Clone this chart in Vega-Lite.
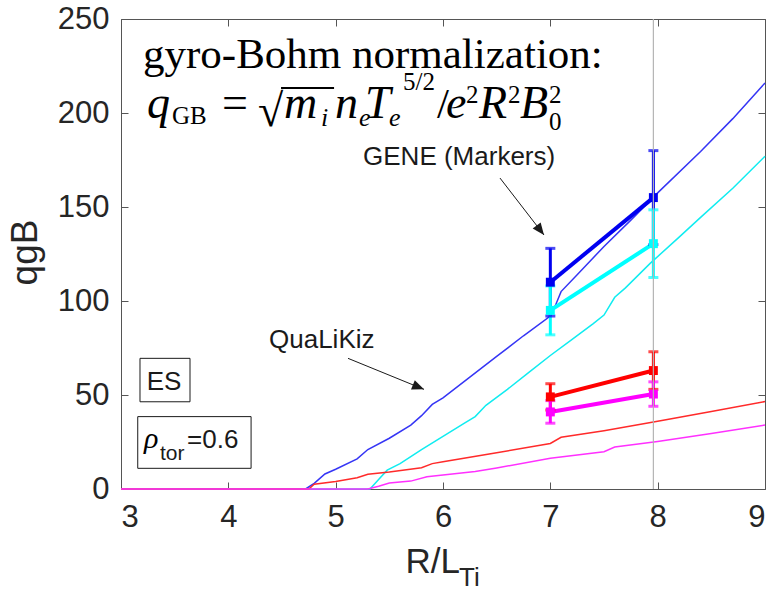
{
  "$schema": "https://vega.github.io/schema/vega-lite/v6.json",
  "width": 644,
  "height": 470,
  "autosize": {"type": "none"},
  "padding": {"left": 121, "top": 19, "right": 3, "bottom": 104},
  "background": "white",
  "config": {
    "view": {"stroke": null},
    "axis": {
      "grid": false,
      "domainColor": "#555555",
      "tickColor": "#555555",
      "tickSize": -7,
      "labelFont": "Liberation Sans",
      "labelFontSize": 31,
      "labelColor": "#262626",
      "titleFont": "Liberation Sans",
      "titleColor": "#262626",
      "titleFontWeight": "normal"
    }
  },
  "datasets": {
    "qualikiz": [
      {"case": "qi_1", "x": 3.0, "y": 0}, {"case": "qi_1", "x": 4.72, "y": 0}, {"case": "qi_1", "x": 4.8, "y": 3},
      {"case": "qi_1", "x": 4.9, "y": 8}, {"case": "qi_1", "x": 5.0, "y": 10.5}, {"case": "qi_1", "x": 5.2, "y": 16},
      {"case": "qi_1", "x": 5.3, "y": 21}, {"case": "qi_1", "x": 5.5, "y": 27}, {"case": "qi_1", "x": 5.7, "y": 34},
      {"case": "qi_1", "x": 5.8, "y": 39}, {"case": "qi_1", "x": 5.9, "y": 45}, {"case": "qi_1", "x": 6.0, "y": 48.5},
      {"case": "qi_1", "x": 6.25, "y": 59.5}, {"case": "qi_1", "x": 6.5, "y": 70.5}, {"case": "qi_1", "x": 6.75, "y": 81.5},
      {"case": "qi_1", "x": 7.0, "y": 92}, {"case": "qi_1", "x": 7.05, "y": 98}, {"case": "qi_1", "x": 7.1, "y": 105},
      {"case": "qi_1", "x": 7.25, "y": 114}, {"case": "qi_1", "x": 7.5, "y": 129}, {"case": "qi_1", "x": 7.75, "y": 143},
      {"case": "qi_1", "x": 8.0, "y": 157.5}, {"case": "qi_1", "x": 8.4, "y": 179.5}, {"case": "qi_1", "x": 8.7, "y": 197},
      {"case": "qi_1", "x": 9.0, "y": 216},

      {"case": "qi_2", "x": 3.0, "y": 0}, {"case": "qi_2", "x": 5.32, "y": 0}, {"case": "qi_2", "x": 5.4, "y": 5},
      {"case": "qi_2", "x": 5.48, "y": 10}, {"case": "qi_2", "x": 5.6, "y": 13.5}, {"case": "qi_2", "x": 5.8, "y": 21},
      {"case": "qi_2", "x": 6.0, "y": 28}, {"case": "qi_2", "x": 6.2, "y": 35}, {"case": "qi_2", "x": 6.3, "y": 38.5},
      {"case": "qi_2", "x": 6.4, "y": 44.5}, {"case": "qi_2", "x": 6.6, "y": 53}, {"case": "qi_2", "x": 6.8, "y": 62},
      {"case": "qi_2", "x": 7.0, "y": 71}, {"case": "qi_2", "x": 7.2, "y": 79.5}, {"case": "qi_2", "x": 7.4, "y": 88},
      {"case": "qi_2", "x": 7.5, "y": 92.5}, {"case": "qi_2", "x": 7.6, "y": 102}, {"case": "qi_2", "x": 7.7, "y": 107},
      {"case": "qi_2", "x": 7.93, "y": 120}, {"case": "qi_2", "x": 8.2, "y": 134}, {"case": "qi_2", "x": 8.4, "y": 144.5},
      {"case": "qi_2", "x": 8.7, "y": 160}, {"case": "qi_2", "x": 9.0, "y": 177},

      {"case": "qe_1", "x": 3.0, "y": 0}, {"case": "qe_1", "x": 4.75, "y": 0}, {"case": "qe_1", "x": 4.8, "y": 2.5},
      {"case": "qe_1", "x": 5.0, "y": 4}, {"case": "qe_1", "x": 5.2, "y": 6}, {"case": "qe_1", "x": 5.3, "y": 7.8},
      {"case": "qe_1", "x": 5.5, "y": 9}, {"case": "qe_1", "x": 5.8, "y": 11.3}, {"case": "qe_1", "x": 5.9, "y": 13.5},
      {"case": "qe_1", "x": 6.0, "y": 14.5}, {"case": "qe_1", "x": 6.5, "y": 19.3}, {"case": "qe_1", "x": 7.0, "y": 24.2},
      {"case": "qe_1", "x": 7.1, "y": 27.5}, {"case": "qe_1", "x": 7.5, "y": 31}, {"case": "qe_1", "x": 8.0, "y": 36},
      {"case": "qe_1", "x": 8.5, "y": 41.2}, {"case": "qe_1", "x": 9.0, "y": 46.5},

      {"case": "qe_2", "x": 3.0, "y": 0}, {"case": "qe_2", "x": 5.3, "y": 0}, {"case": "qe_2", "x": 5.4, "y": 1.5},
      {"case": "qe_2", "x": 5.5, "y": 3.2}, {"case": "qe_2", "x": 5.7, "y": 4.2}, {"case": "qe_2", "x": 5.85, "y": 6.5},
      {"case": "qe_2", "x": 6.0, "y": 7.5}, {"case": "qe_2", "x": 6.3, "y": 9.3}, {"case": "qe_2", "x": 6.5, "y": 11.2},
      {"case": "qe_2", "x": 7.0, "y": 16.3}, {"case": "qe_2", "x": 7.5, "y": 19.8}, {"case": "qe_2", "x": 7.6, "y": 22.3},
      {"case": "qe_2", "x": 8.0, "y": 25.3}, {"case": "qe_2", "x": 8.5, "y": 29.5}, {"case": "qe_2", "x": 9.0, "y": 34}
    ],
    "gene": [
      {"case": "qi_1", "x": 7.0, "y": 110, "lo": 92, "hi": 128},
      {"case": "qi_1", "x": 7.96, "y": 155, "lo": 130, "hi": 180},
      {"case": "qi_2", "x": 7.0, "y": 95, "lo": 82, "hi": 108},
      {"case": "qi_2", "x": 7.96, "y": 130.5, "lo": 112.5, "hi": 148.5},
      {"case": "qe_1", "x": 7.0, "y": 49, "lo": 42, "hi": 56},
      {"case": "qe_1", "x": 7.96, "y": 63, "lo": 53, "hi": 73},
      {"case": "qe_2", "x": 7.0, "y": 41, "lo": 35, "hi": 47},
      {"case": "qe_2", "x": 7.96, "y": 50.5, "lo": 44, "hi": 57}
    ]
  },
  "layer": [
    {
      "layer": [
        {
          "layer": [
            {
              "data": {"name": "qualikiz"},
              "mark": {"type": "line", "strokeWidth": 1.5, "interpolate": "linear"},
              "encoding": {
                "x": {"field": "x", "type": "quantitative",
                      "scale": {"domain": [3, 9], "nice": false, "zero": false},
                      "axis": {"values": [3, 4, 5, 6, 7, 8, 9], "format": "d", "labelPadding": 20,
                               "title": "R/L", "titleFontSize": 35, "titleAlign": "left", "titleAnchor": "start",
                               "titleBaseline": "alphabetic", "titleX": 284, "titleY": 83}},
                "y": {"field": "y", "type": "quantitative",
                      "scale": {"domain": [0, 250], "nice": false},
                      "axis": {"values": [0, 50, 100, 150, 200, 250], "labelPadding": 19,
                               "title": "qgB", "titleFontSize": 37, "titleAngle": -90, "titleAlign": "center",
                               "titleBaseline": "alphabetic", "titleX": -85, "titleY": 233}},
                "color": {"field": "case", "type": "nominal", "legend": null,
                          "scale": {"domain": ["qi_1", "qi_2", "qe_1", "qe_2"],
                                    "range": ["#3535f5", "#10ecf0", "#ff2a2a", "#ff30ff"]}},
                "order": {"field": "x", "type": "quantitative"}
              }
            },
            {
              "data": {"name": "gene"},
              "layer": [
                {
                  "mark": {"type": "line", "strokeWidth": 4},
                  "encoding": {
                    "x": {"field": "x", "type": "quantitative"},
                    "y": {"field": "y", "type": "quantitative"},
                    "color": {"field": "case", "type": "nominal", "legend": null,
                              "scale": {"domain": ["qi_1", "qi_2", "qe_1", "qe_2"],
                                        "range": ["#0000f0", "#00ffff", "#ff0000", "#ff00ff"]}}
                  }
                },
                {
                  "mark": {"type": "rule", "strokeWidth": 3},
                  "encoding": {
                    "x": {"field": "x", "type": "quantitative"},
                    "y": {"field": "lo", "type": "quantitative"},
                    "y2": {"field": "hi"},
                    "color": {"field": "case", "type": "nominal", "legend": null}
                  }
                },
                {
                  "mark": {"type": "tick", "orient": "horizontal", "size": 10, "thickness": 3},
                  "encoding": {
                    "x": {"field": "x", "type": "quantitative"},
                    "y": {"field": "lo", "type": "quantitative"},
                    "color": {"field": "case", "type": "nominal", "legend": null}
                  }
                },
                {
                  "mark": {"type": "tick", "orient": "horizontal", "size": 10, "thickness": 3},
                  "encoding": {
                    "x": {"field": "x", "type": "quantitative"},
                    "y": {"field": "hi", "type": "quantitative"},
                    "color": {"field": "case", "type": "nominal", "legend": null}
                  }
                },
                {
                  "mark": {"type": "point", "shape": "square", "filled": true, "size": 80, "opacity": 1},
                  "encoding": {
                    "x": {"field": "x", "type": "quantitative"},
                    "y": {"field": "y", "type": "quantitative"},
                    "color": {"field": "case", "type": "nominal", "legend": null}
                  }
                }
              ]
            }
          ],
          "resolve": {"scale": {"color": "independent"}}
        },
        {
          "data": {"values": [{"x": 7.96}]},
          "mark": {"type": "rule", "color": "#b4b4b4", "strokeWidth": 1.2},
          "encoding": {"x": {"field": "x", "type": "quantitative"}}
        },
        {
          "data": {"values": [
            {"x": 3.177, "x2": 3.643, "y": 46.4, "y2": 69.5},
            {"x": 3.156, "x2": 4.212, "y": 11.0, "y2": 38.5}
          ]},
          "mark": {"type": "rect", "fill": "white", "fillOpacity": 0, "stroke": "#1a1a1a", "strokeWidth": 1},
          "encoding": {
            "x": {"field": "x", "type": "quantitative"}, "x2": {"field": "x2"},
            "y": {"field": "y", "type": "quantitative"}, "y2": {"field": "y2"}
          }
        },
        {
          "data": {"values": [
            {"x": 6.531, "y": 165.4, "x2": 6.941, "y2": 135.1},
            {"x": 5.115, "y": 69.5, "x2": 5.823, "y2": 53.0}
          ]},
          "mark": {"type": "rule", "color": "#1a1a1a", "strokeWidth": 1},
          "encoding": {
            "x": {"field": "x", "type": "quantitative"}, "x2": {"field": "x2"},
            "y": {"field": "y", "type": "quantitative"}, "y2": {"field": "y2"}
          }
        },
        {
          "data": {"values": [{"x": 6.941, "y": 135.1}]},
          "mark": {"type": "point", "shape": "M0,0L-1,-0.42L-1,0.42Z", "filled": true, "color": "#1a1a1a",
                   "opacity": 1, "size": 576, "angle": 52.3},
          "encoding": {"x": {"field": "x", "type": "quantitative"}, "y": {"field": "y", "type": "quantitative"}}
        },
        {
          "data": {"values": [{"x": 5.823, "y": 53.0}]},
          "mark": {"type": "point", "shape": "M0,0L-1,-0.42L-1,0.42Z", "filled": true, "color": "#1a1a1a",
                   "opacity": 1, "size": 576, "angle": 22.2},
          "encoding": {"x": {"field": "x", "type": "quantitative"}, "y": {"field": "y", "type": "quantitative"}}
        },
        {
          "data": {"values": [
            {"x": 3.205, "y": 223.9, "text": "gyro-Bohm normalization:"},
            {"x": 5.944, "y": 197.3, "text": "/"}
          ]},
          "mark": {"type": "text", "font": "Liberation Serif", "fontSize": 43, "align": "left",
                   "baseline": "alphabetic", "color": "black"},
          "encoding": {"x": {"field": "x", "type": "quantitative"}, "y": {"field": "y", "type": "quantitative"},
                       "text": {"field": "text"}}
        },
        {
          "data": {"values": [
            {"x": 3.941, "y": 197.3, "text": "="},
            {"x": 4.276, "y": 193.0, "text": "√"}
          ]},
          "mark": {"type": "text", "font": "Liberation Serif", "fontSize": 46, "align": "left",
                   "baseline": "alphabetic", "color": "black"},
          "encoding": {"x": {"field": "x", "type": "quantitative"}, "y": {"field": "y", "type": "quantitative"},
                       "text": {"field": "text"}}
        },
        {
          "data": {"values": [{"x": 4.491, "x2": 4.985, "y": 213.3}]},
          "mark": {"type": "rule", "color": "black", "strokeWidth": 1.8},
          "encoding": {"x": {"field": "x", "type": "quantitative"}, "x2": {"field": "x2"},
                       "y": {"field": "y", "type": "quantitative"}}
        },
        {
          "data": {"values": [
            {"x": 3.242, "y": 197.3, "text": "q"},
            {"x": 4.519, "y": 197.3, "text": "m"},
            {"x": 4.994, "y": 197.3, "text": "n"},
            {"x": 5.273, "y": 197.3, "text": "T"},
            {"x": 6.028, "y": 197.3, "text": "e"},
            {"x": 6.336, "y": 197.3, "text": "R"},
            {"x": 6.718, "y": 197.3, "text": "B"}
          ]},
          "mark": {"type": "text", "font": "Liberation Serif", "fontSize": 46, "fontStyle": "italic",
                   "align": "left", "baseline": "alphabetic", "color": "black"},
          "encoding": {"x": {"field": "x", "type": "quantitative"}, "y": {"field": "y", "type": "quantitative"},
                       "text": {"field": "text"}}
        },
        {
          "data": {"values": [
            {"x": 4.863, "y": 193.1, "text": "i"},
            {"x": 5.217, "y": 193.1, "text": "e"},
            {"x": 5.497, "y": 193.1, "text": "e"}
          ]},
          "mark": {"type": "text", "font": "Liberation Serif", "fontSize": 26, "fontStyle": "italic",
                   "align": "left", "baseline": "alphabetic", "color": "black"},
          "encoding": {"x": {"field": "x", "type": "quantitative"}, "y": {"field": "y", "type": "quantitative"},
                       "text": {"field": "text"}}
        },
        {
          "data": {"values": [{"x": 3.215, "y": 21.8, "text": "ρ"}]},
          "mark": {"type": "text", "font": "Liberation Serif", "fontSize": 30, "fontStyle": "italic",
                   "align": "left", "baseline": "alphabetic", "color": "black"},
          "encoding": {"x": {"field": "x", "type": "quantitative"}, "y": {"field": "y", "type": "quantitative"},
                       "text": {"field": "text"}}
        },
        {
          "data": {"values": [
            {"x": 3.475, "y": 194.1, "text": "GB"},
            {"x": 6.988, "y": 191.0, "text": "0"},
            {"x": 5.627, "y": 212.2, "text": "5/2"},
            {"x": 6.214, "y": 205.3, "text": "2"},
            {"x": 6.606, "y": 205.3, "text": "2"},
            {"x": 6.988, "y": 205.3, "text": "2"}
          ]},
          "mark": {"type": "text", "font": "Liberation Serif", "fontSize": 25, "align": "left",
                   "baseline": "alphabetic", "color": "black"},
          "encoding": {"x": {"field": "x", "type": "quantitative"}, "y": {"field": "y", "type": "quantitative"},
                       "text": {"field": "text"}}
        },
        {
          "data": {"values": [
            {"x": 5.255, "y": 172.3, "text": "GENE (Markers)"},
            {"x": 4.379, "y": 75.0, "text": "QuaLiKiz"},
            {"x": 3.239, "y": 52.7, "text": "ES"},
            {"x": 3.615, "y": 21.8, "text": "=0.6"}
          ]},
          "mark": {"type": "text", "font": "Liberation Sans", "fontSize": 26, "align": "left",
                   "baseline": "alphabetic", "color": "#1a1a1a"},
          "encoding": {"x": {"field": "x", "type": "quantitative"}, "y": {"field": "y", "type": "quantitative"},
                       "text": {"field": "text"}}
        },
        {
          "data": {"values": [{"x": 3.363, "y": 15.4, "text": "tor"}]},
          "mark": {"type": "text", "font": "Liberation Sans", "fontSize": 21, "align": "left",
                   "baseline": "alphabetic", "color": "#1a1a1a"},
          "encoding": {"x": {"field": "x", "type": "quantitative"}, "y": {"field": "y", "type": "quantitative"},
                       "text": {"field": "text"}}
        },
        {
          "data": {"values": [{"x": 6.149, "y": -51.6, "text": "Ti"}]},
          "mark": {"type": "text", "font": "Liberation Sans", "fontSize": 26, "align": "left",
                   "baseline": "alphabetic", "color": "#262626"},
          "encoding": {"x": {"field": "x", "type": "quantitative"}, "y": {"field": "y", "type": "quantitative"},
                       "text": {"field": "text"}}
        }
      ]
    },
    {
      "data": {"values": [{"x": 3, "y": 0}]},
      "mark": {"type": "point", "opacity": 0},
      "encoding": {
        "x": {"field": "x", "type": "quantitative",
              "axis": {"orient": "top", "values": [3, 4, 5, 6, 7, 8, 9], "labels": false, "title": null}},
        "y": {"field": "y", "type": "quantitative",
              "axis": {"orient": "right", "values": [0, 50, 100, 150, 200, 250], "labels": false, "title": null}}
      }
    }
  ],
  "resolve": {"axis": {"x": "independent", "y": "independent"}}
}
